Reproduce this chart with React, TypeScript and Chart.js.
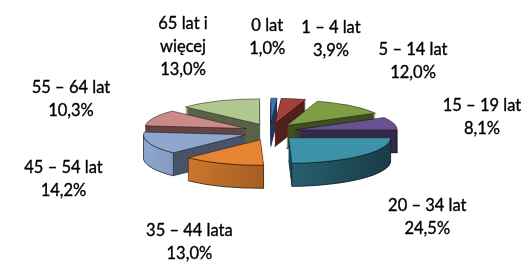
import React, { useEffect, useRef } from "react";
import { Chart, registerables } from "chart.js";

Chart.register(...registerables);

// ---- data ----
const categories: string[] = [
  "0 lat",
  "1 – 4 lat",
  "5 – 14 lat",
  "15 – 19 lat",
  "20 – 34 lat",
  "35 – 44 lata",
  "45 – 54 lat",
  "55 – 64 lat",
  "65 lat i więcej",
];
const categoryLines: string[][] = [
  ["0 lat"],
  ["1 – 4 lat"],
  ["5 – 14 lat"],
  ["15 – 19 lat"],
  ["20 – 34 lat"],
  ["35 – 44 lata"],
  ["45 – 54 lat"],
  ["55 – 64 lat"],
  ["65 lat i", "więcej"],
];
const shares: number[] = [1.0, 3.9, 12.0, 8.1, 24.5, 13.0, 14.2, 10.3, 13.0];
const sliceColors: string[] = [
  "#3F72B3",
  "#A6403D",
  "#7E9D45",
  "#6A5192",
  "#3D92A9",
  "#E58432",
  "#8FA7CF",
  "#C98A88",
  "#B2C68F",
];

// ---- look ----
const SQUASH = 0.25; // vertical squash of the disc
const OFFSET_SQUASH = 0.32; // vertical squash of the explode offset
const DEPTH = 23; // thickness of the disc in px
const LABEL_RX = 219;
const LABEL_RY = 106;
const LINE_H = 23;
const LABEL_GAP = 18;
const FONT = "16.5px Lato, 'Noto Sans', sans-serif";

function shade(hex: string, f: number): string {
  const n = parseInt(hex.slice(1), 16);
  const r = Math.min(255, Math.round(((n >> 16) & 255) * f));
  const g = Math.min(255, Math.round(((n >> 8) & 255) * f));
  const b = Math.min(255, Math.round((n & 255) * f));
  return `rgb(${r},${g},${b})`;
}

const fmt = (v: number) => v.toFixed(1).replace(".", ",") + "%";

function sliceGeom(chart: any) {
  const meta = chart.getDatasetMeta(0);
  return meta.data.map((el: any, i: number) => {
    const p = el.getProps(["x", "y", "startAngle", "endAngle", "outerRadius"], true);
    const mid = (p.startAngle + p.endAngle) / 2;
    const off = el.options.offset || 0;
    return {
      i,
      x: p.x,
      y: p.y,
      s: p.startAngle,
      e: p.endAngle,
      r: p.outerRadius,
      mid,
      off,
      ex: p.x + Math.cos(mid) * off,
      ey: p.y + Math.sin(mid) * off * OFFSET_SQUASH,
      color: el.options.backgroundColor as string,
    };
  });
}

const pie3d = {
  id: "pie3d",
  beforeDatasetsDraw(chart: any) {
    const ctx: CanvasRenderingContext2D = chart.ctx;
    const items = sliceGeom(chart);
    if (!items.length) return false;
    const order = [...items].sort((a, b) => Math.sin(a.mid) - Math.sin(b.mid));
    const edge = "rgba(0,0,0,0.55)";
    for (const it of order) {
      const ry = it.r * SQUASH;
      const face = (dy: number) => {
        ctx.beginPath();
        ctx.moveTo(it.ex, it.ey + dy);
        ctx.ellipse(it.ex, it.ey + dy, it.r, ry, 0, it.s, it.e);
        ctx.closePath();
      };
      ctx.save();
      ctx.lineWidth = 0.8;
      ctx.strokeStyle = edge;
      ctx.lineJoin = "round";
      // extruded body (radial walls)
      ctx.fillStyle = shade(it.color, 0.5);
      face(DEPTH);
      ctx.fill();
      ctx.stroke();
      for (let d = DEPTH - 1; d >= 1; d--) {
        face(d);
        ctx.fill();
      }
      // outer curved wall (front half only)
      const a = Math.max(it.s, 0);
      const b = Math.min(it.e, Math.PI);
      if (b > a) {
        const L = it.x - it.r - it.off;
        const R = it.x + it.r + it.off;
        const g = ctx.createLinearGradient(L, 0, R, 0);
        g.addColorStop(0, shade(it.color, 1.0));
        g.addColorStop(1, shade(it.color, 0.4));
        ctx.beginPath();
        ctx.ellipse(it.ex, it.ey, it.r, ry, 0, a, b);
        ctx.ellipse(it.ex, it.ey + DEPTH, it.r, ry, 0, b, a, true);
        ctx.closePath();
        ctx.fillStyle = g;
        ctx.fill();
        ctx.stroke();
      }
      // top face
      face(0);
      ctx.fillStyle = it.color;
      ctx.fill();
      ctx.stroke();
      ctx.restore();
    }
    return false;
  },
  afterDraw(chart: any) {
    const ctx: CanvasRenderingContext2D = chart.ctx;
    const items = sliceGeom(chart);
    const values: number[] = chart.data.datasets[0].data;
    ctx.save();
    ctx.font = FONT;
    ctx.fillStyle = "#000";
    ctx.strokeStyle = "#000";
    ctx.lineWidth = 0.35;
    ctx.textAlign = "center";
    ctx.textBaseline = "middle";
    const boxes = items.map((it: any) => {
      const lines = [...categoryLines[it.i], fmt(values[it.i])];
      const w = Math.max(...lines.map((l) => ctx.measureText(l).width));
      const h = lines.length * LINE_H;
      return {
        lines,
        w,
        h,
        cx: it.x + LABEL_RX * Math.cos(it.mid),
        cy: it.y + DEPTH / 2 + LABEL_RY * Math.sin(it.mid),
      };
    });
    // simple overlap resolution between neighbours
    for (let k = 0; k < boxes.length; k++) {
      const A = boxes[k];
      const B = boxes[(k + 1) % boxes.length];
      const ox = (A.w + B.w) / 2 + LABEL_GAP - Math.abs(A.cx - B.cx);
      const oy = (A.h + B.h) / 2 - Math.abs(A.cy - B.cy);
      if (ox > 0 && oy > 0) {
        const sgn = B.cx >= A.cx ? 1 : -1;
        A.cx -= sgn * ox * 0.3;
        B.cx += sgn * ox * 0.7;
      }
    }
    for (const bx of boxes) {
      const top = bx.cy - bx.h / 2 + LINE_H / 2;
      bx.lines.forEach((l: string, j: number) => {
        ctx.fillText(l, bx.cx, top + j * LINE_H);
        ctx.strokeText(l, bx.cx, top + j * LINE_H);
      });
    }
    ctx.restore();
  },
};

export default function App() {
  const ref = useRef<HTMLCanvasElement>(null);
  useEffect(() => {
    if (!ref.current) return;
    const chart = new Chart(ref.current, {
      type: "pie",
      data: {
        labels: categories,
        datasets: [
          {
            data: shares,
            backgroundColor: sliceColors,
            borderWidth: 0,
            offset: 26,
            hoverOffset: 0,
          } as any,
        ],
      },
      options: {
        responsive: false,
        animation: false,
        events: [],
        radius: 102,
        layout: { padding: { left: 17, right: 0, top: 2, bottom: 0 } },
        plugins: { legend: { display: false }, tooltip: { enabled: false } },
      } as any,
      plugins: [pie3d as any],
    });
    return () => chart.destroy();
  }, []);
  return (
    <div style={{ position: "absolute", left: 0, top: 0, width: 523, height: 262, background: "#fff" }}>
      <canvas ref={ref} width={523} height={262} />
    </div>
  );
}
